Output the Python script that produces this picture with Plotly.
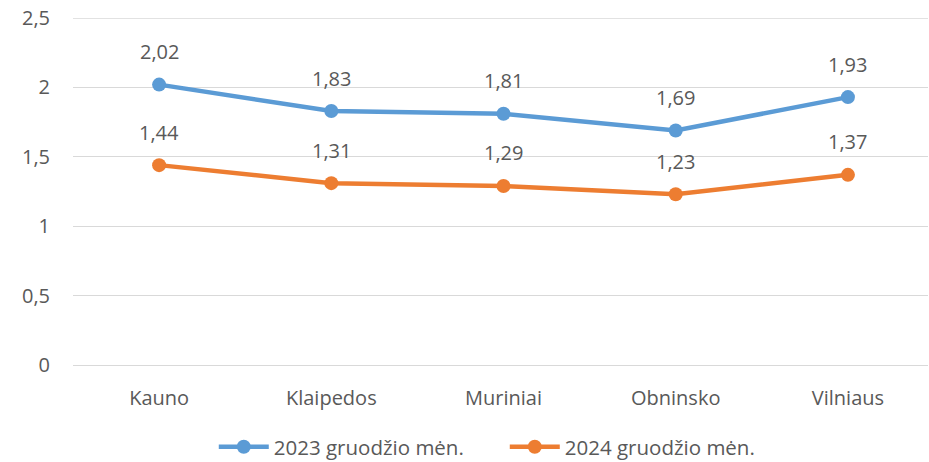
import plotly.graph_objects as go

categories = ["Kauno", "Klaipedos", "Muriniai", "Obninsko", "Vilniaus"]
series_2023 = [2.02, 1.83, 1.81, 1.69, 1.93]
series_2024 = [1.44, 1.31, 1.29, 1.23, 1.37]
names = ["2023 gruodžio mėn.", "2024 gruodžio mėn."]
colors = ["#5B9BD5", "#ED7D31"]

FONT = "Open Sans"
TXT = "#595959"

fig = go.Figure()
for name, vals, c in zip(names, [series_2023, series_2024], colors):
    fig.add_trace(go.Scatter(
        x=categories, y=vals, name=name, mode="lines+markers",
        line=dict(color=c, width=4.5),
        marker=dict(color=c, size=14),
    ))
    for cat, v in zip(categories, vals):
        fig.add_annotation(x=cat, y=v, text=f"{v:.2f}".replace(".", ","),
                           showarrow=False, yshift=33,
                           font=dict(family=FONT, size=20, color=TXT))

fig.update_layout(
    width=929, height=462,
    margin=dict(l=73, r=1, t=18, b=97, autoexpand=False),
    paper_bgcolor="white", plot_bgcolor="white",
    separators=", ",
    font=dict(family=FONT, size=20, color=TXT),
    showlegend=True,
    legend=dict(orientation="h", x=0.505, xanchor="center", y=-0.236, yanchor="middle",
                font=dict(family=FONT, size=20.5, color=TXT),
                itemwidth=50, entrywidth=226, tracegroupgap=0),
    xaxis=dict(range=[-0.5, 4.465], showgrid=False, zeroline=False, showline=False,
               ticks="", ticklabelstandoff=19, tickfont=dict(size=20), automargin=False),
    yaxis=dict(range=[0, 2.5], tickvals=[0, 0.5, 1, 1.5, 2, 2.5], showgrid=True,
               gridcolor="#D9D9D9", gridwidth=1.3,
               zeroline=True, zerolinecolor="#D9D9D9", zerolinewidth=1.3,
               showline=False, ticks="", ticklabelstandoff=22,
               tickfont=dict(size=20), automargin=False),
)
fig.add_shape(type="line", xref="paper", yref="y", x0=0, x1=1, y0=2.5, y1=2.5,
              line=dict(color="#D9D9D9", width=1.3), layer="below")
fig.write_html("out.html", config={"displayModeBar": False},
               post_script="document.body.style.margin='0px';")
